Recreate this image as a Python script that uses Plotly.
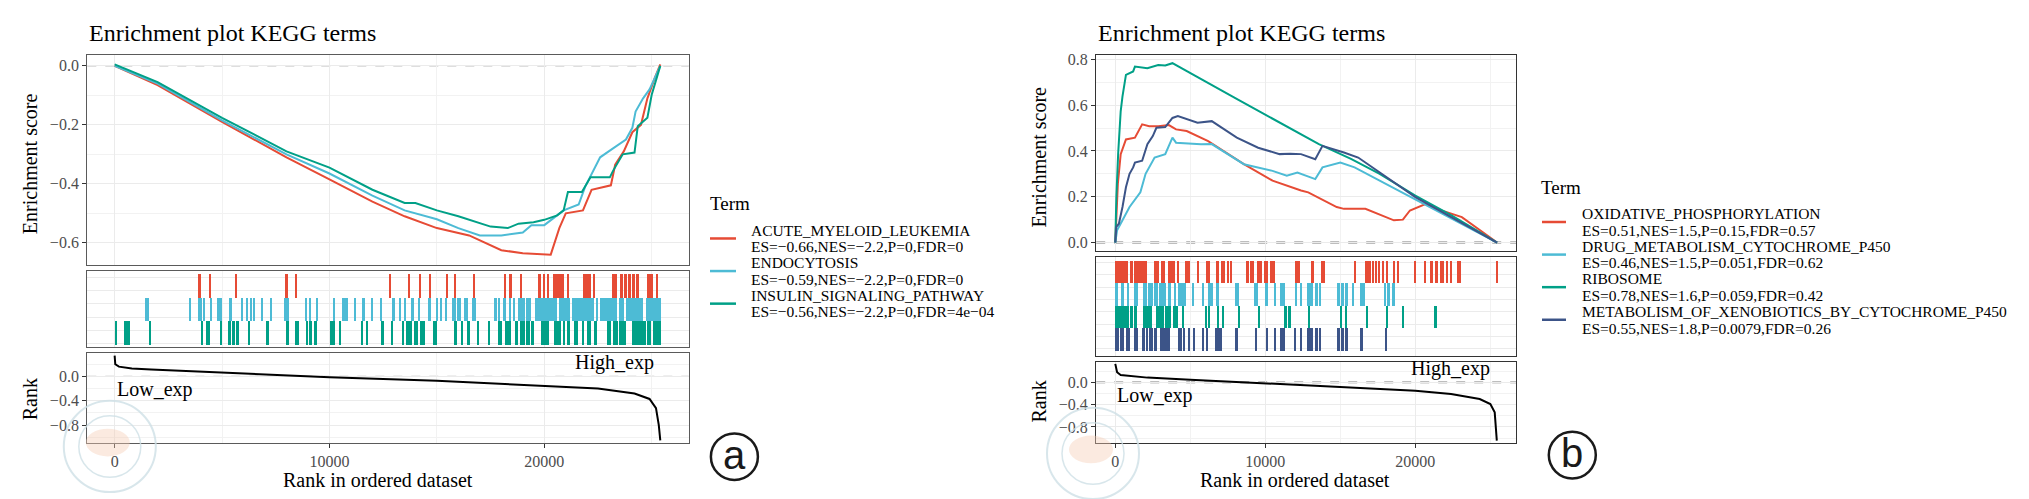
import plotly.graph_objects as go

W, H = 2029, 499
FONT = "Liberation Serif"
RED, BLUE, GREEN, NAVY = "#E64B35", "#4DBBD5", "#00A087", "#3C5488"

# ---------------- panel a ----------------
n_genes_a = 25450
terms_a = ["ACUTE_MYELOID_LEUKEMIA", "ENDOCYTOSIS", "INSULIN_SIGNALING_PATHWAY"]
stats_a = ["ES=\u22120.66,NES=\u22122.2,P=0,FDR=0",
           "ES=\u22120.59,NES=\u22122.2,P=0,FDR=0",
           "ES=\u22120.56,NES=\u22122.2,P=0,FDR=4e\u221204"]

es_a_red_x = [0, 2000, 5000, 8000, 10000, 12000, 13500, 15000, 16500, 18000, 19000, 20300,
              20700, 21000, 21800, 22200, 23100, 23300, 23700, 24100, 24500, 24800, 25150, 25400]
es_a_red_y = [0, -0.065, -0.19, -0.31, -0.385, -0.46, -0.51, -0.55, -0.575, -0.625, -0.635, -0.64,
              -0.55, -0.5, -0.49, -0.42, -0.405, -0.335, -0.29, -0.225, -0.2, -0.11, -0.04, 0.005]

es_a_blue_x = [0, 2000, 5000, 8000, 10000, 12000, 13500, 15000, 16000, 17000, 18000, 19000, 19400,
               20000, 20900, 21600, 21900, 22600, 23100, 23800, 24100, 24250, 24600, 24900, 25150, 25400]
es_a_blue_y = [0, -0.06, -0.185, -0.3, -0.365, -0.44, -0.49, -0.52, -0.55, -0.575, -0.575, -0.565, -0.54,
               -0.54, -0.49, -0.47, -0.41, -0.31, -0.285, -0.25, -0.21, -0.155, -0.11, -0.08, -0.04, 0.0]

es_a_green_x = [0, 2000, 5000, 8000, 10000, 12000, 13500, 14000, 15000, 16000, 17500, 18300, 18800,
                19500, 20000, 20600, 20900, 21100, 21750, 22150, 23050, 23200, 23650, 24200, 24350,
                24800, 25000, 25400]
es_a_green_y = [0.005, -0.055, -0.176, -0.29, -0.345, -0.42, -0.465, -0.465, -0.49, -0.51, -0.545, -0.55,
                -0.535, -0.53, -0.522, -0.507, -0.49, -0.428, -0.428, -0.378, -0.378, -0.356, -0.3,
                -0.294, -0.205, -0.176, -0.098, 0.0]

hits_a_red = [(3910, 4034), (4440, 4490), (5650, 5700), (7929, 8068), (8423, 8470),
              (12805, 12883), (13686, 13779), (14181, 14274), (14691, 14737), (15433, 15541),
              (15788, 15881), (16747, 16777), (18184, 18230), (18354, 18509), (18910, 18988),
              (19730, 19838), (19961, 20023), (20131, 20240), (20441, 20951), (21074, 21151),
              (21801, 22187), (22295, 22342), (23145, 23393), (23578, 23656), (23733, 23856),
              (23918, 24042), (24119, 24243), (24305, 24428), (24784, 25062), (25232, 25309)]

hits_a_blue = [(1437, 1623), (3524, 3570), (3910, 4065), (4110, 4220), (4467, 4498), (4760, 4992),
               (5348, 5456), (5904, 5981), (6151, 6198), (6337, 6368), (6507, 6538), (6831, 6878),
               (7233, 7342), (7913, 8022), (8084, 8115), (8918, 8964), (9104, 9150), (9413, 9475),
               (10201, 10278), (10587, 10896), (11175, 11236), (11546, 11670), (11932, 12025),
               (12372, 12481), (12913, 13068), (13253, 13346), (13501, 13594), (13810, 13964),
               (14150, 14227), (14614, 14737), (14990, 15046), (15185, 15232), (15386, 15495),
               (15726, 15881), (15943, 16128), (16283, 16453), (16669, 16824), (17674, 17813),
               (17859, 17968), (18138, 18230), (18354, 18478), (18555, 18663), (18787, 19096),
               (19142, 19405), (19575, 20611), (20719, 21229), (21306, 22311), (22419, 22528),
               (22620, 23393), (23470, 23702), (23810, 24629), (24737, 25450)]

hits_a_green = [(46, 77), (464, 510), (572, 634), (665, 742), (1669, 1700), (4050, 4111), (4281, 4436),
                (4930, 4977), (5301, 5410), (5487, 5626), (5657, 5796), (6229, 6306), (7048, 7187),
                (7991, 8115), (8423, 8578), (8933, 8980), (9073, 9197), (9274, 9413), (10016, 10278),
                (10479, 10556), (11499, 11546), (11700, 11824), (12411, 12573), (12913, 12991),
                (13377, 13501), (13594, 13841), (13964, 14119), (14212, 14459), (14845, 15000),
                (15819, 15943), (16128, 16252), (16437, 16546), (16932, 16978), (17442, 17488),
                (17859, 18045), (18199, 18478), (18663, 18787), (18895, 19096), (19173, 19328),
                (19374, 19529), (19869, 20255), (20456, 20796), (20889, 20982), (21059, 21229),
                (21414, 21569), (21754, 21878), (21986, 22187), (22342, 22465), (22913, 23114),
                (23192, 23424), (23501, 23810), (24119, 24737), (24815, 25000), (25093, 25450)]

rank_a_x = [0, 30, 200, 800, 1700, 5000, 8800, 10000, 15000, 20000, 22500, 24200, 24900, 25200, 25330, 25400]
rank_a_y = [0.34, 0.2, 0.16, 0.13, 0.115, 0.065, 0.0, -0.016, -0.07, -0.15, -0.2, -0.28, -0.37, -0.52, -0.8, -1.05]

# ---------------- panel b ----------------
n_genes_b = 25450
terms_b = ["OXIDATIVE_PHOSPHORYLATION", "DRUG_METABOLISM_CYTOCHROME_P450", "RIBOSOME",
           "METABOLISM_OF_XENOBIOTICS_BY_CYTOCHROME_P450"]
stats_b = ["ES=0.51,NES=1.5,P=0.15,FDR=0.57", "ES=0.46,NES=1.5,P=0.051,FDR=0.62",
           "ES=0.78,NES=1.6,P=0.059,FDR=0.42", "ES=0.55,NES=1.8,P=0.0079,FDR=0.26"]

es_b_red_x = [0, 70, 170, 360, 710, 1310, 1790, 2260, 2860, 3570, 4050, 4760, 6190, 8570, 10480,
              12380, 12860, 14760, 15240, 16670, 18570, 19170, 19640, 20710, 21430, 23100, 25450]
es_b_red_y = [0, 0.14, 0.256, 0.386, 0.45, 0.458, 0.516, 0.508, 0.508, 0.513, 0.494, 0.487, 0.443,
              0.342, 0.27, 0.227, 0.219, 0.155, 0.147, 0.147, 0.097, 0.1, 0.14, 0.169, 0.147, 0.111, 0]

es_b_blue_x = [0, 120, 480, 950, 1670, 2020, 2620, 3330, 3810, 4050, 5710, 6430, 8570, 10480, 11430,
               12140, 13330, 13810, 15000, 15950, 25450]
es_b_blue_y = [0, 0.053, 0.097, 0.155, 0.219, 0.3, 0.371, 0.386, 0.458, 0.436, 0.429, 0.43, 0.342,
               0.313, 0.292, 0.306, 0.277, 0.328, 0.349, 0.328, 0]

es_b_green_x = [0, 70, 190, 360, 480, 710, 1190, 1310, 2140, 2860, 3330, 3810, 8000, 13570, 15710,
                17620, 20000, 22380, 25450]
es_b_green_y = [0, 0.198, 0.386, 0.573, 0.638, 0.732, 0.747, 0.768, 0.761, 0.775, 0.773, 0.783, 0.63,
                0.43, 0.365, 0.3, 0.205, 0.12, 0]

es_b_navy_x = [0, 70, 240, 480, 710, 950, 1190, 1310, 1790, 2140, 2500, 2740, 3330, 3810, 4170, 4880,
               5480, 6430, 8100, 9520, 10950, 11670, 12380, 13330, 13810, 15240, 16190, 20000, 25450]
es_b_navy_y = [0, 0.068, 0.082, 0.155, 0.241, 0.3, 0.328, 0.349, 0.357, 0.429, 0.465, 0.501, 0.504,
               0.544, 0.552, 0.537, 0.523, 0.53, 0.458, 0.414, 0.386, 0.388, 0.386, 0.364, 0.422,
               0.393, 0.371, 0.198, 0]

hits_b_red = [(0, 882), (1015, 1171), (1238, 2127), (2615, 2949), (3060, 3326), (3549, 3993),
              (4193, 4260), (4660, 4993), (5460, 5549), (6060, 6327), (6727, 6905), (7060, 7327),
              (7505, 7572), (7727, 7794), (8750, 8950), (9016, 9238), (9438, 9772), (9949, 10171),
              (10349, 10660), (11971, 12193), (12260, 12304), (13037, 13259), (13704, 13993),
              (15993, 16037), (16659, 17081), (17148, 17237), (17326, 17481), (17570, 17681),
              (17770, 17904), (18037, 18193), (18526, 18681), (18792, 18926), (19925, 20036),
              (20659, 20703), (20992, 21170), (21303, 21525), (21659, 21925), (22036, 22192),
              (22303, 22459), (22792, 22903), (22970, 23037), (25400, 25460)]

hits_b_blue = [(0, 171), (460, 571), (838, 904), (1238, 1504), (1838, 2127), (2215, 2504), (2615, 2838),
               (2949, 3104), (3127, 3393), (3504, 3726), (3949, 4015), (4215, 4727), (5171, 5282),
               (5793, 5949), (6215, 6504), (6727, 6949), (7993, 8238), (9282, 9504), (9993, 10215),
               (10638, 10704), (11015, 11304), (11993, 12082), (12304, 12437), (12793, 13193),
               (13326, 13504), (13637, 13704), (14793, 14971), (15059, 15259), (15326, 15504),
               (15793, 15904), (16348, 16637), (17926, 18081), (18126, 18304), (18481, 18659)]

hits_b_green = [(0, 949), (1060, 1171), (1282, 1460), (1838, 2460), (2727, 3238), (3326, 3504),
                (3549, 3726), (3837, 4215), (4504, 4571), (5993, 6126), (6215, 6282), (6771, 6905),
                (7171, 7282), (8215, 8349), (9571, 9682), (11260, 11460), (11526, 11726),
                (12926, 12971), (15015, 15059), (15326, 15437), (16770, 16881), (18059, 18215),
                (19170, 19237), (21259, 21437)]

hits_b_navy = [(0, 260), (304, 571), (727, 993), (1238, 1504), (1793, 2015), (2060, 2215), (2282, 2504),
               (2615, 2793), (3015, 3238), (3282, 3660), (4215, 4437), (4549, 4682), (4838, 5015),
               (5171, 5326), (5793, 5949), (6060, 6171), (6682, 7104), (7993, 8215), (9326, 9438),
               (10060, 10171), (10615, 10682), (10993, 11304), (11971, 12037), (12304, 12437),
               (12793, 13193), (13304, 13526), (13659, 13726), (14793, 14971), (15059, 15259),
               (15326, 15526), (16326, 16526), (17993, 18148)]

rank_b_x = [0, 120, 360, 2140, 5000, 10000, 15000, 20000, 22380, 24290, 25000, 25290, 25430]
rank_b_y = [0.33, 0.18, 0.13, 0.084, 0.048, -0.018, -0.072, -0.149, -0.209, -0.3, -0.388, -0.537, -1.045]


def fx(p):
    return p / W


def fy(p):
    return 1 - p / H


fig = go.Figure()


def add_curve(xs, ys, color, ax, width=2):
    fig.add_trace(go.Scatter(x=xs, y=ys, mode="lines", line=dict(color=color, width=width),
                             xaxis="x" + ax, yaxis="y" + ax, showlegend=False, hoverinfo="skip"))


def add_hits(spans, row, color, ax, min_w):
    centers = [(s + e) / 2 for s, e in spans]
    widths = [max(e - s, min_w) for s, e in spans]
    fig.add_trace(go.Bar(x=centers, y=[1] * len(spans), base=[row] * len(spans), width=widths,
                         marker=dict(color=color, line=dict(width=0)),
                         xaxis="x" + ax, yaxis="y" + ax, showlegend=False, hoverinfo="skip"))


# panel a traces (axes 1,2,3)
add_curve(es_a_red_x, es_a_red_y, RED, "")
add_curve(es_a_blue_x, es_a_blue_y, BLUE, "")
add_curve(es_a_green_x, es_a_green_y, GREEN, "")
add_hits(hits_a_red, 2, RED, "2", 55)
add_hits(hits_a_blue, 1, BLUE, "2", 55)
add_hits(hits_a_green, 0, GREEN, "2", 55)
add_curve(rank_a_x, rank_a_y, "black", "3", 2)

# panel b traces (axes 4,5,6)
add_curve(es_b_red_x, es_b_red_y, RED, "4")
add_curve(es_b_blue_x, es_b_blue_y, BLUE, "4")
add_curve(es_b_green_x, es_b_green_y, GREEN, "4")
add_curve(es_b_navy_x, es_b_navy_y, NAVY, "4")
add_hits(hits_b_red, 3, RED, "5", 75)
add_hits(hits_b_blue, 2, BLUE, "5", 75)
add_hits(hits_b_green, 1, GREEN, "5", 75)
add_hits(hits_b_navy, 0, NAVY, "5", 75)
add_curve(rank_b_x, rank_b_y, "black", "6", 2)

grid = dict(showgrid=True, gridcolor="#EBEBEB", gridwidth=1.3, zeroline=False,
            showline=True, mirror=True, linewidth=1.4)
tickfont = dict(family=FONT, size=16, color="#4D4D4D")


def xax(dom, rng, anchor, labels, border):
    d = dict(grid, domain=dom, range=rng, anchor=anchor, linecolor=border,
             tick0=0, dtick=10000, minor=dict(dtick=5000, showgrid=True, gridcolor="#F2F2F2", gridwidth=0.8))
    if labels:
        d.update(ticks="outside", ticklen=4, tickcolor="#333333", tickfont=tickfont,
                 showticklabels=True, tickformat="d")
    else:
        d.update(ticks="", showticklabels=False)
    return d


def yax(dom, rng, anchor, dtick, border, labels=True, tick0=0):
    d = dict(grid, domain=dom, range=rng, anchor=anchor, linecolor=border, tick0=tick0, dtick=dtick)
    if labels:
        d.update(ticks="outside", ticklen=4, tickcolor="#333333", tickfont=tickfont, tickformat=".1f",
                 minor=dict(dtick=dtick / 2, showgrid=True, gridcolor="#F2F2F2", gridwidth=0.8))
    else:
        d.update(ticks="", showticklabels=False)
    return d


xa = [fx(79.3), fx(680.7)]
xb = [fx(1088.2), fx(1508.2)]
rng_a = [-0.05 * n_genes_a, 1.05 * n_genes_a]
rng_b = [-0.05 * n_genes_b, 1.05 * n_genes_b]
BA, BB = "#5A5A5A", "#333333"

fig.update_layout(
    width=W, height=H, margin=dict(l=0, r=0, t=0, b=0),
    paper_bgcolor="white", plot_bgcolor="white", barmode="overlay", bargap=0,
    showlegend=False, font=dict(family=FONT, color="black"),
    xaxis=xax(xa, rng_a, "y", False, BA),
    yaxis=yax([fy(255), fy(43.3)], [-0.675, 0.037], "x", 0.2, BA),
    xaxis2=xax(xa, rng_a, "y2", False, BA),
    yaxis2=yax([fy(337.3), fy(260.7)], [-0.1, 3.14], "x2", 0.56, BA, labels=False, tick0=0.04),
    xaxis3=xax(xa, rng_a, "y3", True, BA),
    yaxis3=yax([fy(434.3), fy(344)], [-1.09, 0.38], "x3", 0.4, BA),
    xaxis4=xax(xb, rng_b, "y4", False, BB),
    yaxis4=yax([fy(240.7), fy(43.3)], [-0.036, 0.819], "x4", 0.2, BB),
    xaxis5=xax(xb, rng_b, "y5", False, BB),
    yaxis5=yax([fy(346.3), fy(247.3)], [-0.2, 4.18], "x5", 0.55, BB, labels=False, tick0=0.1),
    xaxis6=xax(xb, rng_b, "y6", True, BB),
    yaxis6=yax([fy(434), fy(352.7)], [-1.078, 0.366], "x6", 0.4, BB),
)

shapes = []
# zero reference lines
for ax, w, col in [("", 1.2, "#BDBDBD"), ("3", 1.2, "#BDBDBD"), ("4", 3, "#BDBDBD"), ("6", 2.5, "#BDBDBD")]:
    shapes.append(dict(type="line", xref="x" + ax + " domain", yref="y" + ax, x0=0, x1=1, y0=0, y1=0,
                       line=dict(color=col, width=w, dash="dash"), layer="below"))

annotations = []


def text(x, y, s, size, anchor="left", vanchor="middle", angle=0, color="black", family=FONT,
         xref="paper", yref="paper"):
    annotations.append(dict(x=x, y=y, xref=xref, yref=yref, text=s, showarrow=False, xanchor=anchor,
                            yanchor=vanchor, textangle=angle, font=dict(family=family, size=size, color=color)))


for x0, xt, yt, xl, yr in [(78.6, 21.4, 153, 370, 390), (1088.2, 1030.7, 146, 1287, 393)]:
    text(fx(x0), fy(20.7), "Enrichment plot KEGG terms", 24)
    text(fx(xt), fy(yt), "Enrichment score", 20, anchor="center", angle=-90)
    text(fx(xt), fy(yr), "Rank", 20, anchor="center", angle=-90)
    text(fx(xl), fy(472), "Rank in ordered dataset", 20, anchor="center")

text(0, 0, "Low_exp", 20, anchor="left", vanchor="top", xref="x3", yref="y3")
text(25200, 0, "High_exp", 20, anchor="right", vanchor="bottom", xref="x3", yref="y3")
text(0, 0, "Low_exp", 20, anchor="left", vanchor="top", xref="x6", yref="y6")
text(25100, 0, "High_exp", 20, anchor="right", vanchor="bottom", xref="x6", yref="y6")

# legends
legend_specs = [
    (700.4, 193.3, 702, 728, 741.4, 228.3, terms_a, stats_a, [RED, BLUE, GREEN]),
    (1531, 177, 1534, 1558, 1572.3, 211.7, terms_b, stats_b, [RED, BLUE, GREEN, NAVY]),
]
for tx, ty, lx0, lx1, txt_x, key0, names, stats, cols in legend_specs:
    text(fx(tx), fy(ty), "Term", 19)
    for i, (nm, st, c) in enumerate(zip(names, stats, cols)):
        ky = key0 + i * 32.85
        shapes.append(dict(type="line", xref="paper", yref="paper", x0=fx(lx0), x1=fx(lx1),
                           y0=fy(ky), y1=fy(ky), line=dict(color=c, width=2.5)))
        text(fx(txt_x), fy(ky - 8.4), nm, 15.5)
        text(fx(txt_x), fy(ky + 8.4), st, 15.5)

# panel letters
for cx, cy, letter in [(726.4, 448.3, "a"), (1564.3, 446.7, "b")]:
    r = 23.5
    shapes.append(dict(type="circle", xref="paper", yref="paper", x0=fx(cx - r), x1=fx(cx + r),
                       y0=fy(cy + r), y1=fy(cy - r), line=dict(color="#1A1A1A", width=2.5)))
    text(fx(cx), fy(cy - 2), letter, 40, anchor="center", family="Liberation Sans", color="#1A1A1A")

# faint journal seal watermark over the lower-left corners
for cx, cy in [(101.8, 438), (1085, 445)]:
    for r, w in [(46, 2), (31, 1.5)]:
        shapes.append(dict(type="circle", xref="paper", yref="paper", x0=fx(cx - r), x1=fx(cx + r),
                           y0=fy(cy + r), y1=fy(cy - r), line=dict(color="#CFE1E7", width=w), opacity=0.8))
    shapes.append(dict(type="circle", xref="paper", yref="paper", x0=fx(cx - 24), x1=fx(cx + 20),
                       y0=fy(cy + 10), y1=fy(cy - 18), fillcolor="#F6CDB6", line=dict(width=0), opacity=0.42))

fig.update_layout(shapes=shapes, annotations=annotations)
fig.write_html("out.html")
